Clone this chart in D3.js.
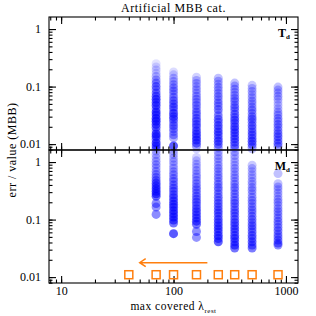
<!DOCTYPE html>
<html>
<head>
<meta charset="utf-8">
<script src="https://cdn.jsdelivr.net/npm/d3@7"></script>
<style>
  body { margin: 0; background: #fff; }
  text { font-family: "Liberation Serif", "DejaVu Serif", serif; fill: #000; }
</style>
</head>
<body>
<div id="chart"></div>
<script>
// Columns: max covered rest-frame wavelength
var lambdas = [70, 100, 160, 250, 350, 500, 850];

// T_d relative errors, [value, weight] per point, one array per column
var td70 = [[0.25,0.1],[0.22,0.15],[0.195,0.2],[0.17,0.15],[0.15,0.3],[0.13,0.4],[0.115,0.5],[0.1,0.6],[0.088,0.5],[0.077,0.6],[0.068,0.7],[0.06,0.8],[0.053,0.7],[0.047,0.8],[0.041,0.6],[0.036,0.9],[0.032,0.8],[0.028,0.9],[0.025,0.9],[0.022,0.8],[0.0195,0.7],[0.017,0.5],[0.015,0.9],[0.0135,0.8],[0.012,0.6],[0.0105,0.9],[0.0093,0.8],[0.0083,0.7]];
var td100 = [[0.18,0.15],[0.16,0.2],[0.14,0.3],[0.123,0.35],[0.108,0.4],[0.095,0.45],[0.084,0.5],[0.074,0.4],[0.065,0.5],[0.057,0.6],[0.05,0.6],[0.044,0.7],[0.039,0.5],[0.034,0.8],[0.03,0.7],[0.027,0.6],[0.024,0.5],[0.021,0.6],[0.0185,0.5],[0.0165,0.4],[0.0145,0.5],[0.0128,0.4],[0.0093,0.9]];
var td160 = [[0.145,0.2],[0.128,0.3],[0.113,0.35],[0.1,0.3],[0.088,0.4],[0.077,0.35],[0.068,0.4],[0.06,0.45],[0.053,0.4],[0.047,0.5],[0.041,0.45],[0.036,0.55],[0.032,0.5],[0.028,0.6],[0.025,0.55],[0.022,0.65],[0.0195,0.6],[0.017,0.7],[0.015,0.75],[0.0133,0.7],[0.0118,0.8],[0.0104,0.7],[0.0092,0.5]];
var td250 = [[0.14,0.3],[0.124,0.35],[0.11,0.3],[0.097,0.4],[0.086,0.35],[0.076,0.4],[0.067,0.45],[0.059,0.4],[0.052,0.5],[0.046,0.45],[0.04,0.55],[0.035,0.3],[0.031,0.5],[0.027,0.6],[0.024,0.55],[0.021,0.65],[0.0185,0.6],[0.0163,0.7],[0.0144,0.65],[0.0127,0.6],[0.0112,0.7],[0.0099,0.6],[0.0087,0.5]];
var td350 = [[0.115,0.3],[0.102,0.35],[0.09,0.4],[0.079,0.35],[0.07,0.4],[0.062,0.45],[0.055,0.5],[0.048,0.45],[0.043,0.55],[0.038,0.5],[0.033,0.6],[0.029,0.55],[0.026,0.65],[0.023,0.6],[0.02,0.7],[0.0178,0.65],[0.0157,0.7],[0.0139,0.6],[0.0123,0.7],[0.0108,0.65],[0.0095,0.6],[0.0084,0.5]];
var td500 = [[0.105,0.25],[0.093,0.3],[0.082,0.35],[0.072,0.3],[0.064,0.35],[0.056,0.4],[0.05,0.35],[0.044,0.4],[0.039,0.5],[0.034,0.45],[0.03,0.5],[0.027,0.55],[0.024,0.5],[0.021,0.6],[0.0185,0.55],[0.0163,0.6],[0.0144,0.65],[0.0127,0.6],[0.0112,0.7],[0.0099,0.6],[0.0088,0.5]];
var td850 = [[0.098,0.3],[0.087,0.35],[0.077,0.3],[0.068,0.35],[0.06,0.3],[0.053,0.2],[0.047,0.25],[0.041,0.3],[0.036,0.35],[0.032,0.4],[0.028,0.45],[0.025,0.4],[0.022,0.5],[0.0195,0.45],[0.0172,0.5],[0.0152,0.55],[0.0134,0.6],[0.0118,0.55],[0.0104,0.6],[0.0092,0.5]];

// M_d relative errors
var md70 = [[1.8,0.2],[1.55,0.25],[1.35,0.3],[1.18,0.3],[1.03,0.35],[0.9,0.4],[0.79,0.35],[0.69,0.4],[0.61,0.45],[0.54,0.5],[0.48,0.6],[0.43,0.7],[0.385,0.75],[0.345,0.8],[0.31,0.8],[0.28,0.85],[0.255,0.8],[0.19,0.6],[0.165,0.55],[0.123,0.6]];
var md100 = [[1.8,0.2],[1.55,0.25],[1.35,0.3],[1.17,0.3],[1.02,0.35],[0.89,0.3],[0.78,0.35],[0.68,0.4],[0.6,0.45],[0.52,0.5],[0.46,0.5],[0.4,0.55],[0.35,0.6],[0.31,0.6],[0.27,0.65],[0.24,0.7],[0.21,0.75],[0.185,0.8],[0.163,0.8],[0.143,0.85],[0.126,0.8],[0.111,0.85],[0.098,0.8],[0.087,0.75],[0.057,0.9]];
var md160 = [[1.7,0.2],[1.2,0.2],[1.05,0.25],[0.92,0.3],[0.81,0.3],[0.71,0.35],[0.62,0.35],[0.55,0.4],[0.48,0.4],[0.42,0.45],[0.37,0.45],[0.33,0.5],[0.29,0.5],[0.255,0.55],[0.225,0.55],[0.2,0.6],[0.176,0.6],[0.155,0.65],[0.137,0.7],[0.121,0.7],[0.107,0.75],[0.094,0.8],[0.083,0.75],[0.062,0.6],[0.049,0.55]];
var md250 = [[1.75,0.3],[1.5,0.35],[1.3,0.3],[1.14,0.35],[1.0,0.3],[0.88,0.35],[0.77,0.4],[0.68,0.35],[0.6,0.4],[0.53,0.45],[0.46,0.4],[0.41,0.45],[0.36,0.5],[0.32,0.45],[0.28,0.5],[0.245,0.55],[0.215,0.5],[0.19,0.55],[0.167,0.6],[0.147,0.6],[0.13,0.65],[0.114,0.6],[0.1,0.7],[0.088,0.65],[0.078,0.7],[0.069,0.75],[0.061,0.7],[0.053,0.8],[0.047,0.75],[0.041,0.85]];
var md350 = [[1.75,0.3],[1.5,0.35],[1.3,0.3],[1.14,0.25],[1.0,0.3],[0.88,0.3],[0.77,0.35],[0.68,0.3],[0.6,0.35],[0.53,0.4],[0.46,0.35],[0.41,0.4],[0.36,0.45],[0.32,0.4],[0.28,0.5],[0.245,0.45],[0.215,0.5],[0.19,0.55],[0.167,0.5],[0.147,0.55],[0.13,0.6],[0.114,0.55],[0.1,0.6],[0.088,0.65],[0.078,0.6],[0.069,0.7],[0.061,0.65],[0.053,0.7],[0.047,0.75],[0.041,0.7],[0.036,0.8],[0.032,0.75]];
var md500 = [[1.7,0.3],[0.88,0.25],[0.77,0.3],[0.68,0.25],[0.6,0.3],[0.53,0.3],[0.46,0.35],[0.41,0.3],[0.36,0.35],[0.32,0.4],[0.28,0.35],[0.245,0.4],[0.215,0.45],[0.19,0.4],[0.167,0.45],[0.147,0.5],[0.13,0.45],[0.114,0.5],[0.1,0.55],[0.088,0.5],[0.078,0.6],[0.069,0.55],[0.061,0.6],[0.053,0.65],[0.047,0.6],[0.041,0.7],[0.036,0.65],[0.032,0.7]];
var md850 = [[0.63,0.3],[0.42,0.3],[0.37,0.35],[0.33,0.3],[0.29,0.35],[0.255,0.3],[0.225,0.35],[0.2,0.4],[0.176,0.35],[0.155,0.4],[0.137,0.45],[0.121,0.4],[0.107,0.45],[0.094,0.5],[0.083,0.45],[0.073,0.5],[0.064,0.55],[0.056,0.5],[0.05,0.55],[0.044,0.6],[0.039,0.65],[0.036,0.6]];

var tdCols = [td70, td100, td160, td250, td350, td500, td850];
var mdCols = [md70, md100, md160, md250, md350, md500, md850];

// Wavelength limits (orange squares) and the arrow
var limitX = [40, 70, 100, 160, 250, 350, 500, 850];
var limitY = 0.011;
var arrowFrom = 200, arrowTo = 50, arrowY = 0.0178;

var xMajor = [10, 100, 1000];
var yMajor = [0.01, 0.1, 1];

// Layout
var svgWidth = 316, svgHeight = 316;
var plotLeft = 49, plotRight = 298, plotTop = 17, plotMid = 150;
var panelH = plotMid - plotTop;

var svg = d3.select("#chart").append("svg")
  .attr("width", svgWidth)
  .attr("height", svgHeight);

var xScale = d3.scaleLog().domain([7.8, 1280]).range([plotLeft, plotRight]);

// minor ticks 1..9 per decade
function minorTicks(lo, hi) {
  var out = [];
  for (var e = Math.floor(Math.log10(lo)); e <= Math.ceil(Math.log10(hi)); e++) {
    for (var m = 1; m <= 9; m++) {
      var v = m * Math.pow(10, e);
      if (v >= lo && v <= hi) out.push(v);
    }
  }
  return out;
}
var xMinor = minorTicks(7.8, 1280);
var yMinor = minorTicks(0.0079, 1.62);

var opacity = d3.scaleLinear().domain([0, 1]).range([0.04, 0.72]);

function flatten(cols) {
  var pts = [];
  cols.forEach(function(col, i) {
    col.forEach(function(p) { pts.push({x: lambdas[i], y: p[0], w: p[1]}); });
  });
  return pts;
}

function panel(name, y0, cols, label, showX) {
  var yScale = d3.scaleLog().domain([0.0079, 1.62]).range([y0 + panelH, y0]);
  var g = svg.append("g");

  g.append("clipPath").attr("id", "clip-" + name)
    .append("rect")
    .attr("x", plotLeft).attr("y", y0)
    .attr("width", plotRight - plotLeft).attr("height", panelH);

  g.append("g")
    .attr("clip-path", "url(#clip-" + name + ")")
    .selectAll("circle")
    .data(flatten(cols))
    .enter()
    .append("circle")
    .attr("cx", d => xScale(d.x))
    .attr("cy", d => yScale(d.y))
    .attr("r", 4.5)
    .attr("fill", "#0000ff")
    .attr("fill-opacity", d => opacity(d.w));

  // axes: major and minor ticks, all pointing inward
  function addAxis(axis, transform) {
    var a = g.append("g").attr("transform", transform).call(axis);
    a.select(".domain").remove();
    a.selectAll("line").attr("stroke", "#000").attr("stroke-width", 1.1);
    a.selectAll("text").attr("font-size", 12).style("font-family", "Liberation Serif, serif");
    return a;
  }
  addAxis(d3.axisLeft(yScale).tickValues(yMajor).tickSize(-7).tickPadding(8)
    .tickFormat(d => d === 1 ? "1" : d === 0.1 ? "0.1" : "0.01"), `translate(${plotLeft},0)`);
  addAxis(d3.axisLeft(yScale).tickValues(yMinor).tickSize(-3.5).tickFormat(""), `translate(${plotLeft},0)`);
  addAxis(d3.axisRight(yScale).tickValues(yMajor).tickSize(-7).tickFormat(""), `translate(${plotRight},0)`);
  addAxis(d3.axisRight(yScale).tickValues(yMinor).tickSize(-3.5).tickFormat(""), `translate(${plotRight},0)`);
  addAxis(d3.axisTop(xScale).tickValues(xMajor).tickSize(-7).tickFormat(""), `translate(0,${y0})`);
  addAxis(d3.axisTop(xScale).tickValues(xMinor).tickSize(-3.5).tickFormat(""), `translate(0,${y0})`);
  addAxis(d3.axisBottom(xScale).tickValues(xMajor).tickSize(-7).tickPadding(3)
    .tickFormat(showX ? d3.format("d") : ""), `translate(0,${y0 + panelH})`);
  addAxis(d3.axisBottom(xScale).tickValues(xMinor).tickSize(-3.5).tickFormat(""), `translate(0,${y0 + panelH})`);

  g.append("rect")
    .attr("x", plotLeft).attr("y", y0)
    .attr("width", plotRight - plotLeft).attr("height", panelH)
    .attr("fill", "none").attr("stroke", "#000").attr("stroke-width", 1.1);

  var t = g.append("text")
    .attr("x", plotRight - 8).attr("y", y0 + 20)
    .attr("text-anchor", "end")
    .attr("font-size", 12)
    .attr("font-weight", "bold");
  t.append("tspan").text(label);
  t.append("tspan").attr("font-size", 7).attr("dy", 2).text("d");

  return yScale;
}

panel("td", plotTop, tdCols, "T", false);
var yBottom = panel("md", plotMid, mdCols, "M", true);

// orange limit squares
svg.append("g").selectAll("rect")
  .data(limitX)
  .enter()
  .append("rect")
  .attr("x", d => xScale(d) - 4)
  .attr("y", yBottom(limitY) - 4)
  .attr("width", 8).attr("height", 8)
  .attr("fill", "none")
  .attr("stroke", "#ff7f0e")
  .attr("stroke-width", 1.5);

// arrow pointing to shorter wavelengths
var ax0 = xScale(arrowFrom), ax1 = xScale(arrowTo), ay = yBottom(arrowY);
svg.append("path")
  .attr("d", `M${ax0},${ay}L${ax1},${ay}M${ax1 + 6},${ay - 4}L${ax1},${ay}L${ax1 + 6},${ay + 4}`)
  .attr("fill", "none")
  .attr("stroke", "#ff7f0e")
  .attr("stroke-width", 1.5);

// title and axis labels
svg.append("text")
  .attr("x", (plotLeft + plotRight) / 2).attr("y", 12)
  .attr("text-anchor", "middle")
  .attr("font-size", 12)
  .attr("letter-spacing", 0.6)
  .text("Artificial MBB cat.");

svg.append("text")
  .attr("transform", `translate(16, ${plotMid}) rotate(-90)`)
  .attr("text-anchor", "middle")
  .attr("font-size", 12)
  .attr("letter-spacing", 0.5)
  .text("err / value (MBB)");

var xl = svg.append("text")
  .attr("x", (plotLeft + plotRight) / 2).attr("y", 310)
  .attr("text-anchor", "middle")
  .attr("font-size", 11.5)
  .attr("letter-spacing", 0.5);
xl.append("tspan").text("max covered \u03bb");
xl.append("tspan").attr("font-size", 7).attr("dy", 3).text("rest");
</script>
</body>
</html>
